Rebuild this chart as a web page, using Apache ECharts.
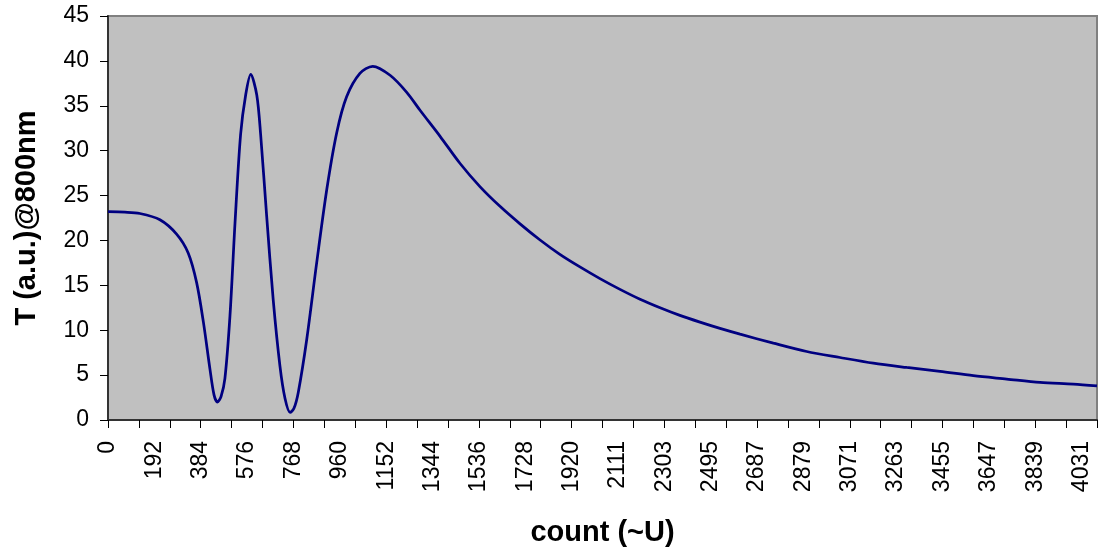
<!DOCTYPE html>
<html>
<head>
<meta charset="utf-8">
<script src="https://cdn.jsdelivr.net/npm/echarts@6/dist/echarts.min.js"></script>
<style>
html,body{margin:0;padding:0;background:#fff;}
#chart{width:1100px;height:552px;}
</style>
</head>
<body>
<div id="chart"></div>
<script>
// Category values (count) shown along the x axis
var counts = [
0,32,64,96,128,160,192,224,256,288,320,352,384,416,448,480,512,544,576,608,
640,672,704,736,768,800,832,864,896,928,960,992,1024,1056,1088,1120,1152,1184,1216,1248,
1280,1312,1344,1376,1408,1440,1472,1504,1536,1568,1600,1632,1664,1696,1728,1760,1792,1824,1856,1888,
1920,1952,1984,2016,2048,2079,2111,2143,2175,2207,2239,2271,2303,2335,2367,2399,2431,2463,2495,2527,
2559,2591,2623,2655,2687,2719,2751,2783,2815,2847,2879,2911,2943,2975,3007,3039,3071,3103,3135,3167,
3199,3231,3263,3295,3327,3359,3391,3423,3455,3487,3519,3551,3583,3615,3647,3679,3711,3743,3775,3807,
3839,3871,3903,3935,3967,3999,4031,4063,4095
];

// Curve samples: count position and T (a.u.) @ 800nm
var sampleCount = [
0,70,132,215,284,332,367,395,422,439,
453,468,484,505,526,549,570,591,616,632,
657,684,712,733,754,770,788,823,864,906,
947,988,1043,1096,1168,1237,1292,1375,1457,1540,
1623,1706,1789,1871,1954,2037,2120,2203,2286,2368,
2451,2534,2617,2755,2893,3031,3169,3307,3445,3583,
3721,3859,3997,4095
];
var sampleT = [
23.2,23.15,23.0,22.3,20.7,18.6,15.3,10.9,5.7,2.8,
2.0,2.6,4.6,11.6,22.0,31.8,36.2,38.5,36.2,31.8,
22.7,13.4,6.0,2.4,0.85,1.3,3.1,9.0,17.5,25.7,
32.0,36.0,38.6,39.4,38.4,36.5,34.5,31.6,28.6,26.0,
23.8,21.85,20.05,18.45,17.05,15.75,14.55,13.45,12.5,11.65,
10.9,10.2,9.56,8.56,7.63,6.96,6.33,5.85,5.41,4.93,
4.56,4.19,4.0,3.8
];

var yTicks = [0,5,10,15,20,25,30,35,40,45];
var xTitle = 'count (~U)';
var yTitle = 'T (a.u.)@800nm';

var seriesData = sampleCount.map(function (c, i) { return [c, sampleT[i]]; });

var chart = echarts.init(document.getElementById('chart'), null, {renderer:'canvas'});
chart.setOption({
  animation: false,
  backgroundColor: '#ffffff',
  grid: {
    left: 108, right: 3, top: 16, bottom: 131,
    show: true,
    backgroundColor: '#C0C0C0',
    borderColor: '#808080',
    borderWidth: 2
  },
  xAxis: [{
    type: 'category',
    data: counts.map(String),
    boundaryGap: false,
    name: xTitle,
    nameLocation: 'middle',
    nameGap: 98,
    nameTextStyle: {fontFamily: 'Liberation Sans', fontWeight: 'bold', fontSize: 29, color: '#000'},
    axisLine: {show: true, lineStyle: {color: '#333', width: 2}},
    axisTick: {show: true, interval: 3, length: 8, lineStyle: {color: '#000', width: 1}},
    axisLabel: {
      interval: 5, rotate: 90, margin: 21,
      fontFamily: 'Liberation Sans', fontSize: 23, color: '#000'
    },
    splitLine: {show: false}
  }, {
    type: 'value',
    min: counts[0], max: counts[counts.length - 1],
    show: false,
    splitLine: {show: false}
  }],
  yAxis: {
    type: 'value',
    min: yTicks[0], max: yTicks[yTicks.length-1], interval: 5,
    name: yTitle,
    nameLocation: 'middle',
    nameRotate: 90,
    nameGap: 67,
    nameTextStyle: {fontFamily: 'Liberation Sans', fontWeight: 'bold', fontSize: 29, color: '#000'},
    axisLine: {show: true, lineStyle: {color: '#333', width: 2}},
    axisTick: {show: true, length: 8, lineStyle: {color: '#000', width: 1}},
    axisLabel: {margin: 19, fontFamily: 'Liberation Sans', fontSize: 23, color: '#000'},
    splitLine: {show: false}
  },
  series: [{
    type: 'line',
    xAxisIndex: 1,
    data: seriesData,
    smooth: 0.3,
    showSymbol: false,
    lineStyle: {color: '#000080', width: 2.75},
    itemStyle: {color: '#000080'}
  }]
});
</script>
</body>
</html>
